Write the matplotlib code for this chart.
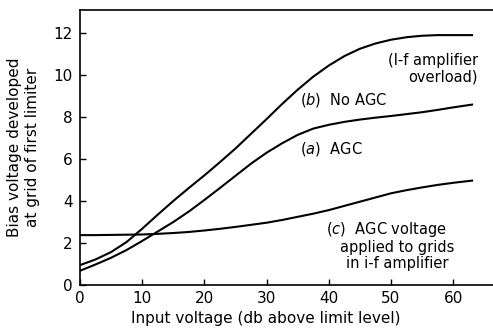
import matplotlib
matplotlib.use("Agg")
import matplotlib.pyplot as plt

# Data
input_db = [0, 2.5, 5, 7.5, 10, 12.5, 15, 17.5, 20, 22.5, 25, 27.5, 30, 32.5, 35, 37.5, 40, 42.5, 45, 47.5, 50, 52.5, 55, 57.5, 60, 63.2]
no_agc = [0.95, 1.22, 1.57, 2.05, 2.68, 3.35, 4.0, 4.62, 5.22, 5.85, 6.5, 7.2, 7.9, 8.62, 9.3, 9.92, 10.45, 10.9, 11.25, 11.5, 11.68, 11.8, 11.87, 11.9, 11.9, 11.9]
agc = [0.68, 0.98, 1.3, 1.67, 2.1, 2.55, 3.0, 3.5, 4.05, 4.62, 5.2, 5.78, 6.3, 6.75, 7.15, 7.45, 7.63, 7.77, 7.88, 7.97, 8.05, 8.14, 8.23, 8.34, 8.46, 8.6]
agc_voltage = [2.38, 2.38, 2.39, 2.4, 2.41, 2.44, 2.48, 2.53, 2.6, 2.68, 2.77, 2.87, 2.97, 3.1, 3.25, 3.4, 3.57, 3.77, 3.97, 4.17, 4.37, 4.52, 4.65, 4.77, 4.87, 4.98]

x_ticks = [0, 10, 20, 30, 40, 50, 60]
y_ticks = [0, 2, 4, 6, 8, 10, 12]

plt.rcParams['font.family'] = ['DejaVu Sans']
fig = plt.figure(figsize=(4.93, 3.30), dpi=100)
ax = fig.add_axes([0.162, 0.136, 0.838, 0.834])

for ys in (no_agc, agc, agc_voltage):
    ax.plot(input_db, ys, color='black', linewidth=1.5, solid_capstyle='butt')

ax.set_xlim(0, 66.4)
ax.set_ylim(0, 13.1)
ax.set_xticks(x_ticks)
ax.set_yticks(y_ticks)
ax.tick_params(direction='in', length=4, width=1, labelsize=11, colors='black')
ax.tick_params(axis='x', pad=4)
ax.tick_params(axis='y', pad=5)
for s in ('left', 'bottom', 'top'):
    ax.spines[s].set_linewidth(1.2)
ax.spines['right'].set_visible(False)

ax.set_xlabel('Input voltage (db above limit level)', fontsize=11, va='center')
ax.xaxis.set_label_coords(0.45, -0.12)
ax.set_ylabel('Bias voltage developed\nat grid of first limiter', fontsize=11, linespacing=1.2, va='center')
ax.yaxis.set_label_coords(-0.136, 0.5)

ax.text(64.0, 10.3, '(l-f amplifier\noverload)', ha='right', va='center', fontsize=10.5, linespacing=1.05)
ax.text(35.4, 8.8, r'$(b)$  No AGC', ha='left', va='center', fontsize=10.5)
ax.text(35.4, 6.5, r'$(a)$  AGC', ha='left', va='center', fontsize=10.5)
ax.text(49.3, 2.65, r'$(c)$  AGC voltage', ha='center', va='center', fontsize=10.5)
ax.text(51.0, 1.4, 'applied to grids\nin i-f amplifier', ha='center', va='center', fontsize=10.5, linespacing=1.05)

fig.savefig('out.png', dpi=100)
